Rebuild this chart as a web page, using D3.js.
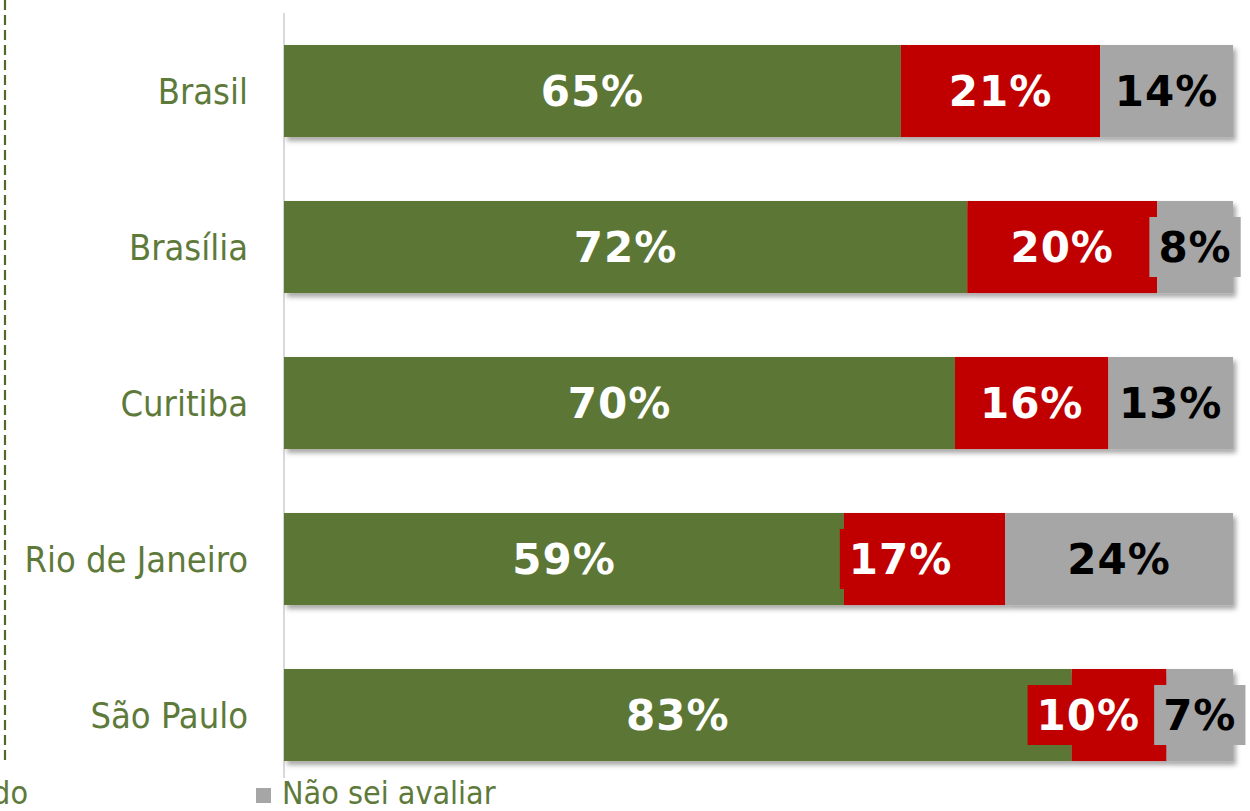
<!DOCTYPE html>
<html lang="pt-BR">
<head>
<meta charset="utf-8">
<script src="https://cdn.jsdelivr.net/npm/d3@7"></script>
<style>
  html, body { margin: 0; padding: 0; background: #ffffff; }
  svg { display: block; }
  .cat { font-family: "DejaVu Sans Condensed", "DejaVu Sans", sans-serif; font-stretch: condensed; }
  .val { font-family: "DejaVu Sans", sans-serif; font-weight: bold; letter-spacing: 1px; }
</style>
</head>
<body>
<svg id="chart" width="1250" height="811"></svg>
<script>
// Avaliação por cidade (%)
const categories = ["Brasil", "Brasília", "Curitiba", "Rio de Janeiro", "São Paulo"];
const seriesNames = ["Aprovado", "Desaprovado", "Não sei avaliar"];
const aprovado    = [65, 72, 70, 59, 83];
const desaprovado = [21, 20, 16, 17, 10];
const naoSei      = [14,  8, 13, 24,  7];

const colors = ["#5C7634", "#C00000", "#A6A6A6"];
const textColors = ["#ffffff", "#ffffff", "#000000"];
const labelGreen = "#5E7A3A";

// manual nudges for crowded red labels (px, horizontal)
const redLabelNudge = { "Rio de Janeiro": -24, "São Paulo": -5 };

const svg = d3.select("#chart");

const defs = svg.append("defs");
const f = defs.append("filter").attr("id", "shadow")
  .attr("x", "-5%").attr("y", "-20%").attr("width", "115%").attr("height", "150%");
f.append("feDropShadow").attr("dx", 3).attr("dy", 4).attr("stdDeviation", 2.5)
  .attr("flood-color", "#000").attr("flood-opacity", 0.35);

const rows = categories.map((c, i) => ({
  cat: c,
  [seriesNames[0]]: aprovado[i],
  [seriesNames[1]]: desaprovado[i],
  [seriesNames[2]]: naoSei[i]
}));

const stacked = d3.stack().keys(seriesNames).offset(d3.stackOffsetExpand)(rows);

const x = d3.scaleLinear().domain([0, 1]).range([284, 1233]);
const y = d3.scaleBand().domain(categories).range([13, 793])
  .paddingInner(0.41).paddingOuter(0.205);

// dashed frame edge on the left
svg.append("line")
  .attr("x1", 5).attr("x2", 5).attr("y1", 0).attr("y2", 765)
  .attr("stroke", "#4F6A2C").attr("stroke-width", 2.2)
  .attr("stroke-dasharray", "10,5");

// category axis line
svg.append("line")
  .attr("x1", x(0)).attr("x2", x(0)).attr("y1", 13).attr("y2", 778)
  .attr("stroke", "#D9D9D9").attr("stroke-width", 2);

// bars
const gBars = svg.append("g").attr("filter", "url(#shadow)");
stacked.forEach((s, si) => {
  gBars.selectAll(null).data(s).enter().append("rect")
    .attr("x", d => x(d[0]))
    .attr("y", d => y(d.data.cat))
    .attr("width", d => x(d[1]) - x(d[0]))
    .attr("height", y.bandwidth())
    .attr("fill", colors[si]);
});

// category labels
const yAxis = d3.axisLeft(y).tickSize(0).tickPadding(36);
const gAxis = svg.append("g").attr("transform", `translate(${x(0)},0)`).call(yAxis);
gAxis.select(".domain").remove();
gAxis.selectAll("text")
  .attr("class", "cat")
  .attr("font-size", 36)
  .attr("fill", labelGreen)
  .attr("dy", "0.36em");

// value labels
const gLab = svg.append("g");
const valueSize = 42;
const boxH = 60, padX = 9;

const labelData = [];
stacked.forEach((s, si) => {
  s.forEach((d, i) => {
    const raw = [aprovado, desaprovado, naoSei][si][i];
    labelData.push({
      si, i, cat: d.data.cat, raw,
      cx: (x(d[0]) + x(d[1])) / 2,
      cy: y(d.data.cat) + y.bandwidth() / 2
    });
  });
});

// measure text widths
const meas = gLab.append("text").attr("class", "val").attr("font-size", valueSize);
labelData.forEach(l => { meas.text(l.raw + "%"); l.w = meas.node().getComputedTextLength(); });
meas.remove();

// keep each red box clear of the grey box next to it
categories.forEach(c => {
  const red = labelData.find(l => l.cat === c && l.si === 1);
  const grey = labelData.find(l => l.cat === c && l.si === 2);
  const greyLeft = grey.cx - grey.w / 2 - padX;
  const redRight = red.cx + red.w / 2 + padX;
  if (redRight > greyLeft) red.cx -= (redRight - greyLeft);
  if (redLabelNudge[c]) red.cx += redLabelNudge[c];
});

// boxes behind the red and grey labels
[1, 2].forEach(si => {
  gLab.selectAll(null).data(labelData.filter(l => l.si === si)).enter().append("rect")
    .attr("x", l => l.cx - l.w / 2 - padX)
    .attr("y", l => l.cy - boxH / 2)
    .attr("width", l => l.w + 2 * padX)
    .attr("height", boxH)
    .attr("fill", colors[si]);
});

gLab.selectAll("text.val").data(labelData).enter().append("text")
  .attr("class", "val")
  .attr("font-size", valueSize)
  .attr("text-anchor", "middle")
  .attr("x", l => l.cx)
  .attr("y", l => l.cy + 15)
  .attr("fill", l => textColors[l.si])
  .text(l => l.raw + "%");

// legend
const gLeg = svg.append("g");
const legY = 804;
gLeg.append("rect").attr("x", -280).attr("y", legY - 15).attr("width", 15).attr("height", 15).attr("fill", colors[1]);
gLeg.append("text").attr("class", "cat").attr("font-size", 32).attr("fill", labelGreen)
  .attr("x", 28).attr("y", legY).attr("text-anchor", "end").text(seriesNames[1]);
gLeg.append("rect").attr("x", 256).attr("y", legY - 16).attr("width", 15).attr("height", 15).attr("fill", colors[2]);
gLeg.append("text").attr("class", "cat").attr("font-size", 32).attr("fill", labelGreen)
  .attr("x", 282).attr("y", legY).text(seriesNames[2]);
</script>
</body>
</html>
